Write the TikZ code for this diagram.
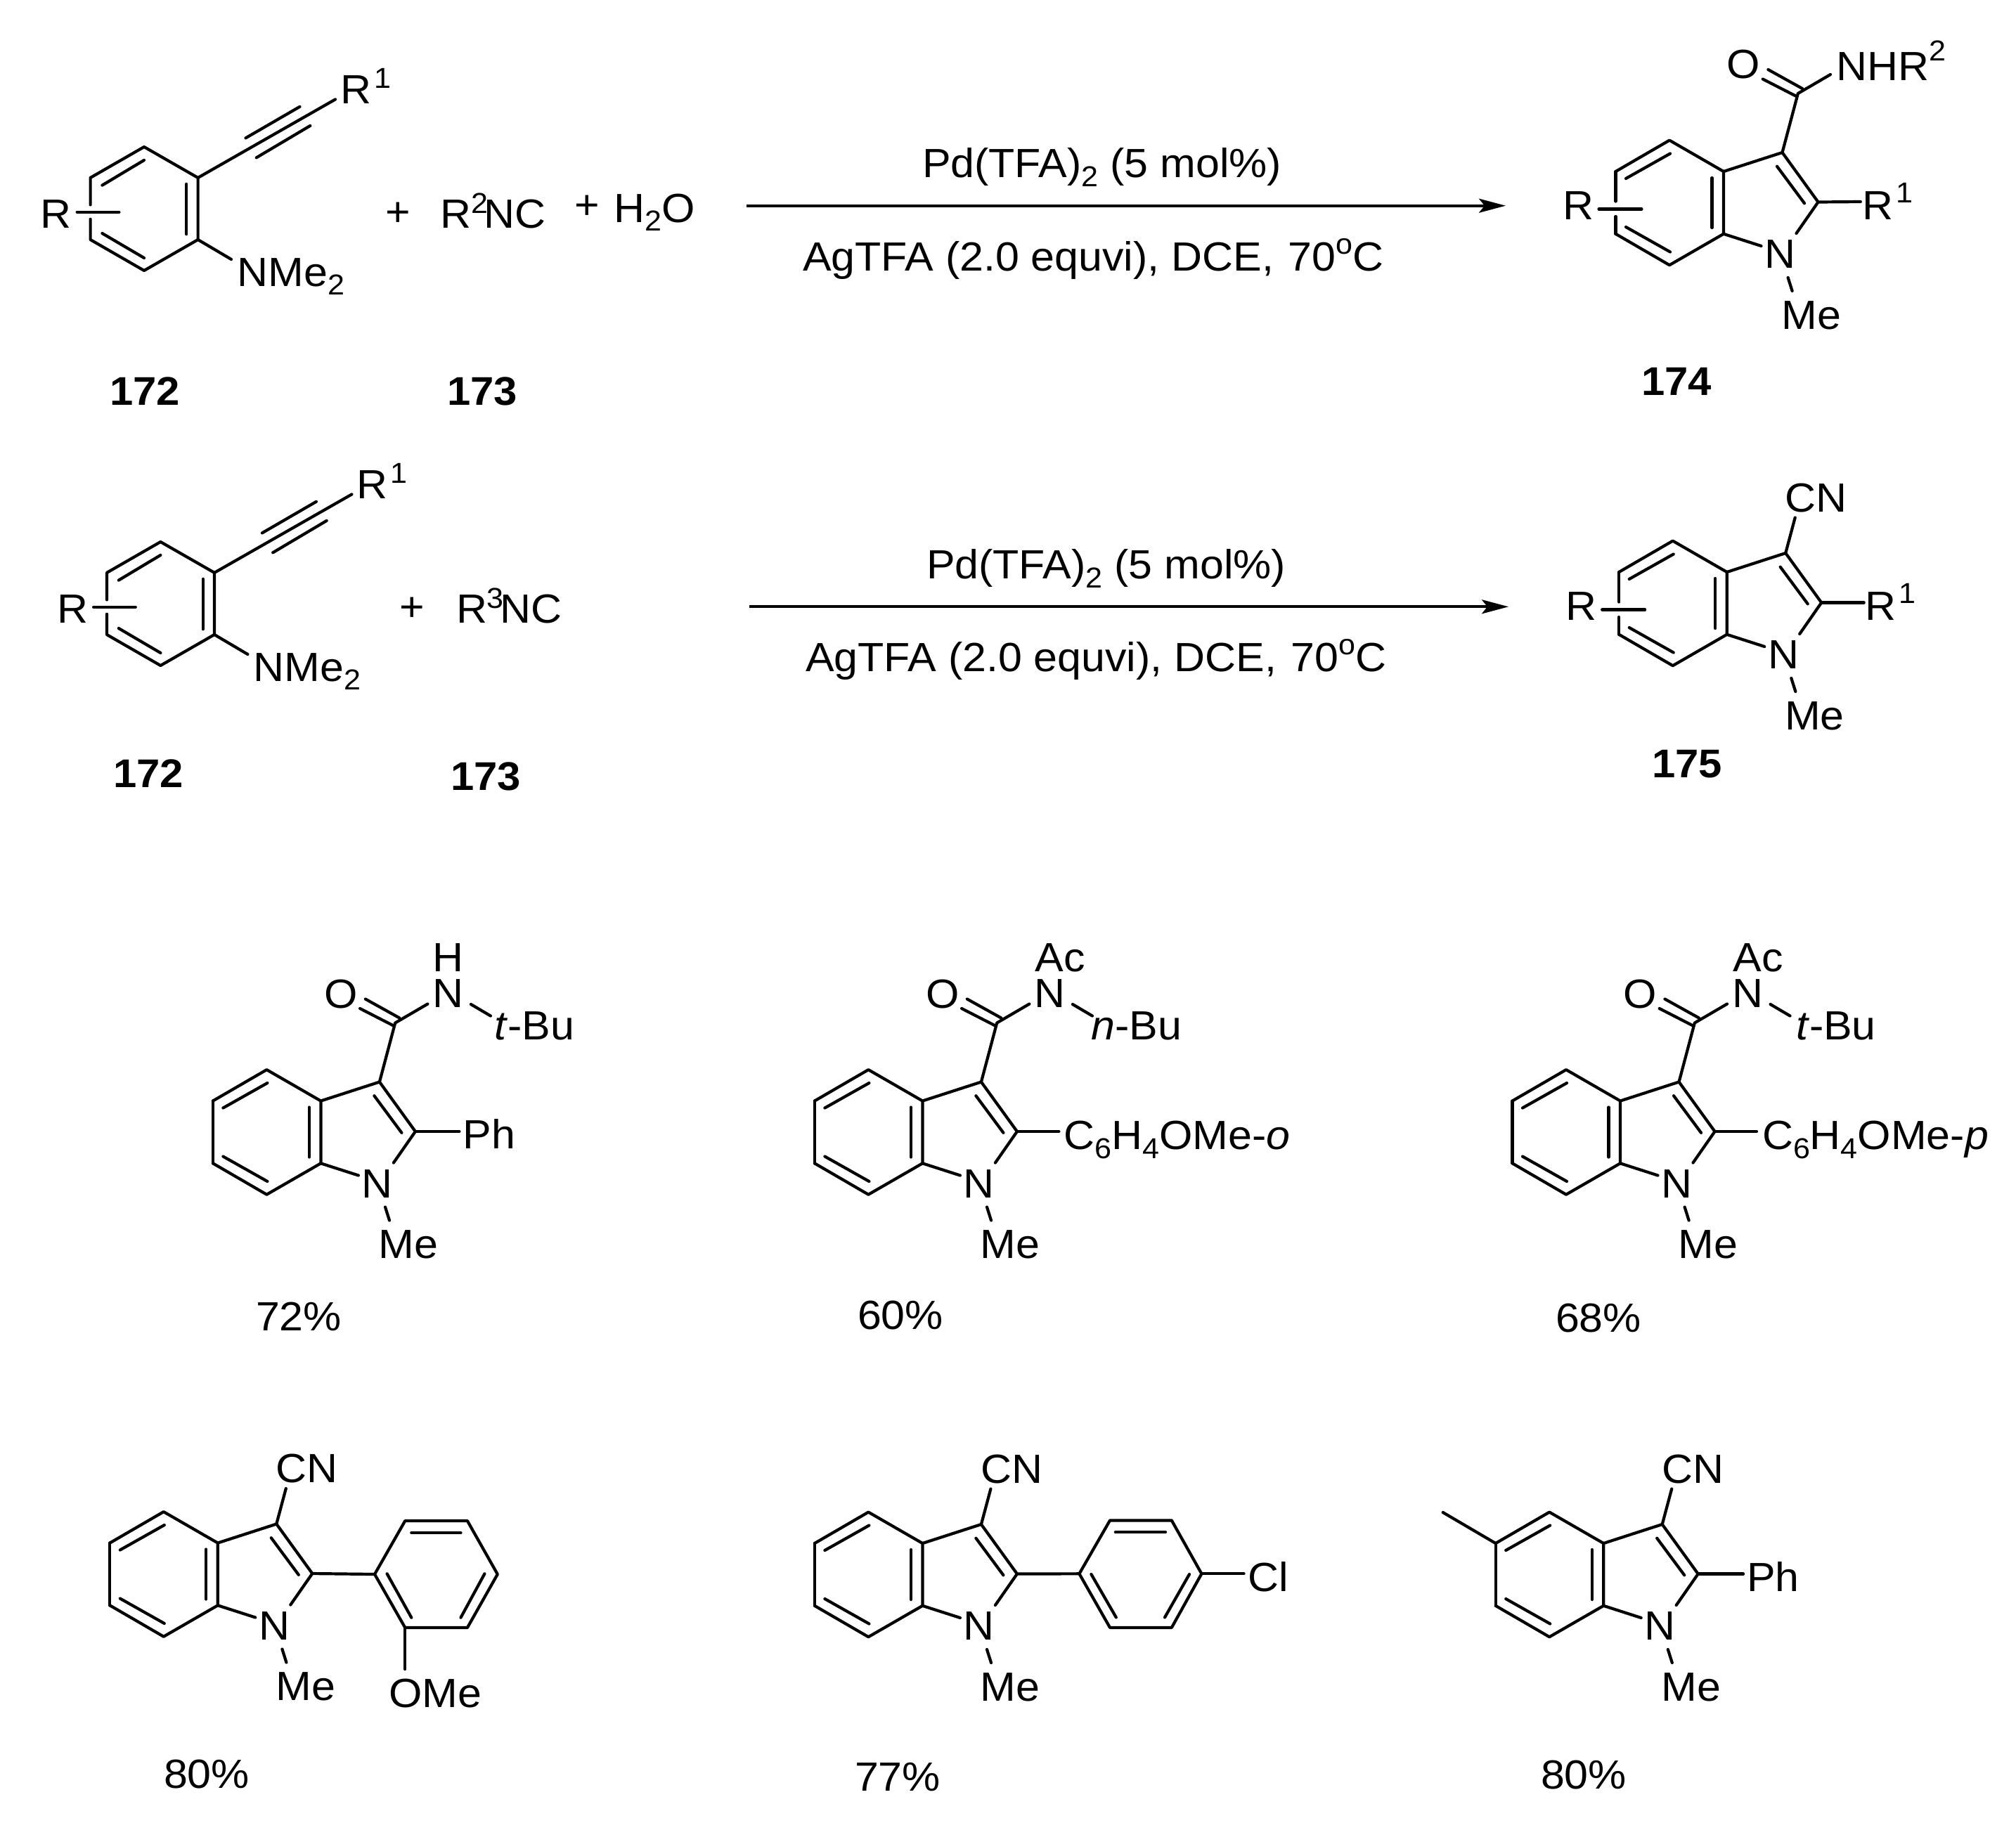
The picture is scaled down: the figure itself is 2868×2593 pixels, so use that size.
\documentclass[tikz,border=0pt]{standalone}
\usepackage{fontspec}
\setmainfont[FakeStretch=1.05]{Liberation Sans}
\usetikzlibrary{arrows.meta}
\newcommand{\subd}[1]{\raisebox{-3.2pt}{\fontsize{10.25}{12}\selectfont #1}}
\newcommand{\supd}[2][6pt]{\raisebox{#1}{\fontsize{10.25}{12}\selectfont #2}}
\tikzset{
  bond/.style={line width=1.05pt,line cap=round,line join=round},
  lab/.style={inner sep=0pt,outer sep=0pt,anchor=base west,font=\fontsize{14.5}{16}\selectfont},
  cen/.style={inner sep=0pt,outer sep=0pt,anchor=center,font=\fontsize{14.5}{16}\selectfont},
  num/.style={lab,font=\fontsize{14.25}{16}\selectfont\bfseries},
  rxn/.style={-{Stealth[length=9.5pt,width=5pt,inset=2pt]},line width=.95pt}
}
% indole core (all but the C5-C6 ring side), origin at C3a
\newcommand{\indolebody}[3]{%
\begin{scope}[shift={(#2,#3)}]
  \coordinate (#1a) at (0,0);
  \coordinate (#1top) at (-77,-44.4);
  \coordinate (#1tl) at (-153.5,0);
  \coordinate (#1bl) at (-153.5,88.8);
  \coordinate (#1bot) at (-77,133.2);
  \coordinate (#1b) at (0,88.8);
  \coordinate (#1c3) at (83.5,-27);
  \coordinate (#1c2) at (134.5,43.5);
  \draw[bond] (#1tl)--(#1top)--(#1a)--(#1b)--(#1bot)--(#1bl);
  \draw[bond] (#1a)--(#1c3)--(#1c2);
  \draw[bond] (-139,10)--(-76,-25.5);
  \draw[bond] (-139,79)--(-76,114.5);
  \draw[bond] (-16.5,9)--(-16.5,80);
  \draw[bond] (76,-7.3)--(115,45.3);
  \node[cen] (#1N) at (80.5,118) {N};
  \draw[bond] (#1b)--(53.5,106);
  \draw[bond] (#1c2)--(103.5,88);
  \draw[bond] (91.6,151)--(97.6,170);
  \node[lab] (#1Me) at (82.5,224) {Me};
\end{scope}}
\newcommand{\sideplain}[3]{%
\begin{scope}[shift={(#2,#3)}]
  \draw[bond] (#1tl)--(#1bl);
\end{scope}}
\newcommand{\sideR}[3]{%
\begin{scope}[shift={(#2,#3)}]
  \draw[bond] (#1tl)--(-153.5,42.5);
  \draw[bond] (-153.5,64)--(#1bl);
  \draw[bond] (-177.5,53.5)--(-116.6,53.5);
  \node[lab] (#1R) at (-229,68) {R};
\end{scope}}
\newcommand{\cngroup}[3]{%
\begin{scope}[shift={(#2,#3)}]
  \draw[bond] (#1c3)--(97,-77.5);
  \node[lab] (#1CN) at (83,-86) {CN};
\end{scope}}
\newcommand{\carbonyl}[3]{%
\begin{scope}[shift={(#2,#3)}]
  \coordinate (#1co) at (105.8,-111);
  \draw[bond] (#1c3)--(#1co)--(152,-138);
  \draw[bond] (112,-118)--(63.4,-145);
  \draw[bond] (103.5,-107)--(55.7,-131.5);
  \node[cen] (#1O) at (28.5,-152) {O};
\end{scope}}
\newcommand{\amideN}[3]{%
\begin{scope}[shift={(#2,#3)}]
  \node[cen] (#1NA) at (181,-153) {N};
  \draw[bond] (213.5,-137.5)--(241.5,-121);
\end{scope}}
% 2-(alkynyl)-N,N-dimethylaniline
\newcommand{\aniline}[3]{%
\begin{scope}[shift={(#2,#3)}]
  \coordinate (#1top) at (205,209);
  \coordinate (#1tr) at (281.6,252.9);
  \coordinate (#1br) at (281.6,341);
  \coordinate (#1bot) at (205,385);
  \coordinate (#1bl) at (128.6,341);
  \coordinate (#1tl) at (128.6,252.9);
  \coordinate (#1yn) at (477,141.4);
  \draw[bond] (128.6,291.4)--(#1tl)--(#1top)--(#1tr)--(#1br)--(#1bot)--(#1bl)--(128.6,311.8);
  \draw[bond] (145.4,263.6)--(205,227.9);
  \draw[bond] (265.3,261.8)--(265.3,333.2);
  \draw[bond] (145.4,332)--(205,367);
  \draw[bond] (109.7,301.8)--(169.4,301.8);
  \node[lab] (#1R) at (57.7,324.3) {R};
  \draw[bond] (#1tr)--(#1yn);
  \draw[bond] (349.5,196.4)--(426.5,151.8);
  \draw[bond] (364.8,224.3)--(441.3,178.9);
  \node[lab] (#1Ra) at (484.3,147.5) {R\hspace{1pt}\supd[5.6pt]{1}};
  \draw[bond] (#1br)--(329,369);
  \node[lab] (#1NMe) at (337.5,407) {NMe\subd{2}};
\end{scope}}
\begin{document}
\begin{tikzpicture}[x=0.25pt,y=-0.25pt]
\useasboundingbox (0,0) rectangle (2868,2593);
\fill[white] (0,0) rectangle (2868,2593);

% --- first reaction
\aniline{p}{0}{0}
\node[cen] (pplus) at (566,304.6) {+};
\node[lab] (pnc) at (626.5,324.3) {R\supd[5.3pt]{2}\hspace{-1.4pt}NC};
\node[cen] (pplusb) at (835,295) {+};
\node[lab] (pwater) at (873.2,316) {H\subd{2}O};
\node[num] (n172a) at (156,576) {172};
\node[num] (n173a) at (636,576) {173};
\coordinate (a1s) at (1062,292.7);
\coordinate (a1e) at (2142,292.7);
\draw[rxn] (a1s)--(a1e);
\node[lab] (t1a) at (1312,252.7) {Pd(TFA)\subd{2} (5 mol\%)};
\node[lab] (t1b) at (1142,385) {AgTFA (2.0 equvi), DCE, \hspace{1pt}70\supd{o}C};
\indolebody{x}{2452}{244}
\sideR{x}{2452}{244}
\carbonyl{x}{2452}{244}
\begin{scope}[shift={(2452,244)}]
  \node[lab] (xNHR) at (160.7,-129.4) {NHR\supd[7pt]{2}};
  \draw[bond] (xc2)--(194.8,43);
  \node[lab] (xRa) at (197,68) {R\hspace{1pt}\supd{1}};
\end{scope}
\node[num] (n174) at (2335,562) {174};

% --- second reaction
\aniline{q}{23.4}{562}
\node[cen] (qplus) at (586.7,866.7) {+};
\node[lab] (qnc) at (649,886.7) {R\supd[5.3pt]{3}\hspace{-1.4pt}NC};
\node[num] (n172b) at (161,1120) {172};
\node[num] (n173b) at (641,1124) {173};
\coordinate (a2s) at (1066,863.3);
\coordinate (a2e) at (2146,863.3);
\draw[rxn] (a2s)--(a2e);
\node[lab] (t2a) at (1318,823.3) {Pd(TFA)\subd{2} (5 mol\%)};
\node[lab] (t2b) at (1146,955.6) {AgTFA (2.0 equvi), DCE, \hspace{1pt}70\supd{o}C};
\indolebody{y}{2456.7}{814}
\sideR{y}{2456.7}{814}
\cngroup{y}{2456.7}{814}
\begin{scope}[shift={(2456.7,814)}]
  \draw[bond] (yc2)--(195,43.5);
  \node[lab] (yRa) at (197,68) {R\hspace{1pt}\supd{1}};
\end{scope}
\node[num] (n175) at (2350,1106) {175};

% --- products, row 1
\indolebody{A}{456.4}{1566.5}
\sideplain{A}{456.4}{1566.5}
\carbonyl{A}{456.4}{1566.5}
\amideN{A}{456.4}{1566.5}
\begin{scope}[shift={(456.4,1566.5)}]
  \node[cen] (AH) at (181,-204) {H};
  \node[lab] (Abu) at (247,-86.7) {\textit{t}-Bu};
  \draw[bond] (Ac2)--(197,43.5);
  \node[lab] (APh) at (202.5,67.5) {Ph};
\end{scope}
\node[lab] (Ay) at (364,1893) {72\%};

\indolebody{B}{1312.4}{1566.5}
\sideplain{B}{1312.4}{1566.5}
\carbonyl{B}{1312.4}{1566.5}
\amideN{B}{1312.4}{1566.5}
\begin{scope}[shift={(1312.4,1566.5)}]
  \node[lab] (BAc) at (160.5,-183.8) {Ac};
  \node[lab] (Bbu) at (240,-87) {\textit{n}-Bu};
  \draw[bond] (Bc2)--(194,43.5);
  \node[lab] (Bsub) at (201,68.8) {C\subd{6}H\subd{4}OMe-\textit{o}};
\end{scope}
\node[lab] (By) at (1220,1891) {60\%};

\indolebody{C}{2305}{1566.5}
\sideplain{C}{2305}{1566.5}
\carbonyl{C}{2305}{1566.5}
\amideN{C}{2305}{1566.5}
\begin{scope}[shift={(2305,1566.5)}]
  \node[lab] (CAc) at (160.5,-183.8) {Ac};
  \node[lab] (Cbu) at (250,-86.7) {\textit{t}-Bu};
  \draw[bond] (Cc2)--(194,43.5);
  \node[lab] (Csub) at (202,68.8) {C\subd{6}H\subd{4}OMe-\textit{p}};
\end{scope}
\node[lab] (Cy) at (2213,1895.5) {68\%};

% --- products, row 2
\indolebody{D}{309.8}{2195.5}
\sideplain{D}{309.8}{2195.5}
\cngroup{D}{309.8}{2195.5}
\coordinate (Dp1) at (533,2240);
\coordinate (Dp2) at (576.3,2164);
\coordinate (Dp3) at (664.9,2164);
\coordinate (Dp4) at (707.8,2240);
\coordinate (Dp5) at (664.9,2316);
\coordinate (Dp6) at (576.3,2316);
\draw[bond] (Dc2)--(Dp1);
\draw[bond] (Dp1)--(Dp2)--(Dp3)--(Dp4)--(Dp5)--(Dp6)--cycle;
\draw[bond] (585.3,2181)--(655.5,2181);
\draw[bond] (689.4,2239.3)--(655.5,2301.7);
\draw[bond] (550.6,2239.3)--(585.3,2301.7);
\node[lab] (DOMe) at (553,2429.3) {OMe};
\draw[bond] (Dp6)--(576.3,2375);
\node[lab] (Dy) at (233,2544) {80\%};

\indolebody{E}{1312.4}{2196}
\sideplain{E}{1312.4}{2196}
\cngroup{E}{1312.4}{2196}
\coordinate (Ep1) at (1535.4,2239.3);
\coordinate (Ep2) at (1579,2163.4);
\coordinate (Ep3) at (1666.8,2163.4);
\coordinate (Ep4) at (1709.4,2239.3);
\coordinate (Ep5) at (1666.8,2315.9);
\coordinate (Ep6) at (1579,2315.9);
\draw[bond] (Ec2)--(Ep1);
\draw[bond] (Ep1)--(Ep2)--(Ep3)--(Ep4)--(Ep5)--(Ep6)--cycle;
\draw[bond] (1586.8,2180.3)--(1658,2180.3);
\draw[bond] (1552.4,2240)--(1587.8,2301.4);
\draw[bond] (1692,2240)--(1657,2301.4);
\draw[bond] (Ep4)--(1769.5,2239.3);
\node[lab] (ECl) at (1775.4,2264.8) {Cl};
\node[lab] (Ey) at (1216,2548.6) {77\%};

\indolebody{F}{2281.2}{2196}
\sideplain{F}{2281.2}{2196}
\cngroup{F}{2281.2}{2196}
\begin{scope}[shift={(2281.2,2196)}]
  \coordinate (Fme) at (-228.5,-44);
  \draw[bond] (Ftl)--(Fme);
  \draw[bond] (Fc2)--(198.8,43.5);
  \node[lab] (FPh) at (204,68) {Ph};
\end{scope}
\node[lab] (Fy) at (2192,2545) {80\%};
\end{tikzpicture}
\end{document}
